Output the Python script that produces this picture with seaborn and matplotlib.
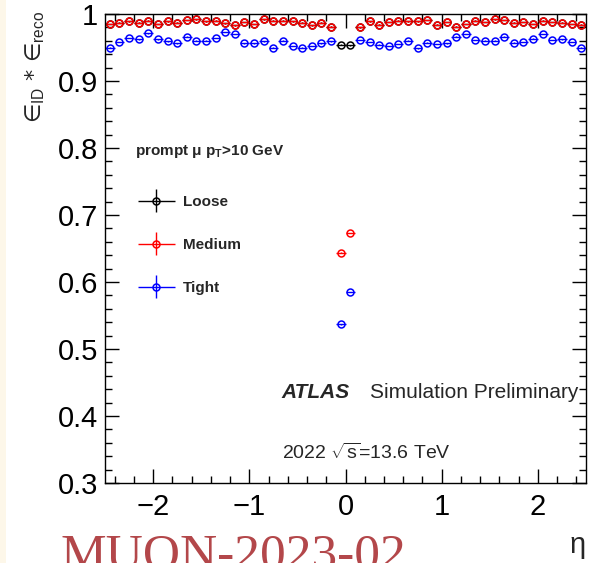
import numpy as np
import pandas as pd
import matplotlib
matplotlib.use("Agg")
import matplotlib.pyplot as plt
import seaborn as sns
from matplotlib.ticker import MultipleLocator, FuncFormatter
from matplotlib.legend_handler import HandlerErrorbar
from matplotlib.patches import Rectangle

# eta bin centres, 0.1 wide, from -2.45 to 2.45
eta = np.round(np.arange(-2.45, 2.5, 0.1), 2)

medium = [0.985, 0.987, 0.989, 0.987, 0.990, 0.985, 0.989, 0.987, 0.991, 0.992,
          0.989, 0.990, 0.986, 0.983, 0.988, 0.985, 0.992, 0.990, 0.990, 0.989,
          0.987, 0.983, 0.987, 0.981, 0.644, 0.673, 0.980, 0.989, 0.984, 0.988,
          0.990, 0.989, 0.989, 0.991, 0.984, 0.988, 0.981, 0.985, 0.990, 0.988,
          0.992, 0.991, 0.987, 0.988, 0.985, 0.990, 0.988, 0.987, 0.985, 0.984]

tight = [0.950, 0.958, 0.964, 0.962, 0.971, 0.962, 0.959, 0.956, 0.966, 0.960,
         0.960, 0.964, 0.973, 0.970, 0.956, 0.956, 0.959, 0.950, 0.960, 0.952,
         0.950, 0.952, 0.956, 0.959, 0.537, 0.585, 0.961, 0.958, 0.954, 0.952,
         0.955, 0.960, 0.949, 0.957, 0.955, 0.956, 0.966, 0.970, 0.961, 0.960,
         0.960, 0.966, 0.957, 0.958, 0.963, 0.970, 0.961, 0.962, 0.958, 0.950]

# loose sits under medium except in the two central bins
loose = list(medium)
loose[24] = 0.954
loose[25] = 0.953

working_points = ["Loose", "Medium", "Tight"]
colors = {"Loose": "black", "Medium": "#ff0000", "Tight": "#0000ff"}

df = pd.concat([
    pd.DataFrame({"eta": eta, "eff": loose, "wp": "Loose"}),
    pd.DataFrame({"eta": eta, "eff": medium, "wp": "Medium"}),
    pd.DataFrame({"eta": eta, "eff": tight, "wp": "Tight"}),
])

sns.set_theme(style="ticks")
plt.rcParams["font.family"] = ["Liberation Sans", "DejaVu Sans"]
plt.rcParams["mathtext.fontset"] = "custom"
plt.rcParams["mathtext.rm"] = "Liberation Sans"
plt.rcParams["mathtext.bf"] = "Liberation Sans:bold"
plt.rcParams["mathtext.it"] = "Liberation Sans:italic"

fig = plt.figure(figsize=(5.94, 5.63), dpi=100)
fig.patch.set_facecolor("white")
fig.patches.append(Rectangle((0, 0), 6 / 594, 1, transform=fig.transFigure,
                             facecolor="#fdf7e9", edgecolor="none", zorder=0))

ax = fig.add_axes([105 / 594, 1 - 483 / 563, 481 / 594, 469 / 563])

handles = []
for wp in working_points:
    sub = df[df["wp"] == wp]
    h = ax.errorbar(sub["eta"], sub["eff"], xerr=0.05, yerr=0.0005, fmt="o",
                    color=colors[wp], mfc="none", mec=colors[wp], ms=5, mew=1.1,
                    elinewidth=1.0, capsize=0, label=wp)
    handles.append(h)

ax.set_xlim(-2.5, 2.5)
ax.set_ylim(0.3, 1.0)
ax.xaxis.set_major_locator(MultipleLocator(1))
ax.xaxis.set_minor_locator(MultipleLocator(0.2))
ax.yaxis.set_major_locator(MultipleLocator(0.1))
ax.yaxis.set_minor_locator(MultipleLocator(0.02))
ax.yaxis.set_major_formatter(FuncFormatter(lambda v, p: "1" if abs(v - 1) < 1e-6 else f"{v:.1f}"))
ax.tick_params(which="both", direction="in", top=True, right=True, colors="black",
               labelsize=21, width=1.0)
ax.tick_params(which="major", length=10)
ax.tick_params(which="minor", length=5)
ax.tick_params(axis="x", pad=7)
ax.tick_params(axis="y", pad=5)
for s in ax.spines.values():
    s.set_linewidth(1.0)
    s.set_color("black")

fig.text(35 / 594, 1 - 11 / 563, "∈$_{\\mathrm{ID}}$ * ∈$_{\\mathrm{reco}}$",
         rotation=90, ha="center", va="top", fontsize=16,
         family=["DejaVu Sans"])
fig.text(578 / 594, 1 - 545 / 563, "η", ha="center", va="center", fontsize=21)

ax.text(0.063, 0.706, "prompt μ p$_{\\mathbf{T}}$>10 GeV", transform=ax.transAxes,
        fontsize=11, fontweight="bold", ha="left", va="center")

leg = ax.legend(handles=handles, labels=working_points, loc="upper left",
                bbox_to_anchor=(0.068, 0.614), frameon=False, borderpad=0,
                borderaxespad=0, handlelength=2.45, handletextpad=0.5,
                labelspacing=1.9, prop={"weight": "bold", "size": 11},
                handler_map={type(handles[0]): HandlerErrorbar(xerr_size=1.2, yerr_size=0.75)})

ax.text(0.367, 0.193, "ATLAS", transform=ax.transAxes, fontsize=15,
        fontweight="bold", fontstyle="italic", ha="left", va="center")
ax.text(0.550, 0.193, "Simulation Preliminary", transform=ax.transAxes,
        fontsize=15, ha="left", va="center")
ax.text(0.367, 0.065, "2022 $\\sqrt{\\mathrm{s}}$=13.6 TeV", transform=ax.transAxes,
        fontsize=14, ha="left", va="center")

fig.text(60 / 594, 1 - 533 / 563, "MUON-2023-02", color="#b3474a",
         fontsize=37, family="Liberation Serif", ha="left", va="top")

fig.savefig("out.png", dpi=100)
